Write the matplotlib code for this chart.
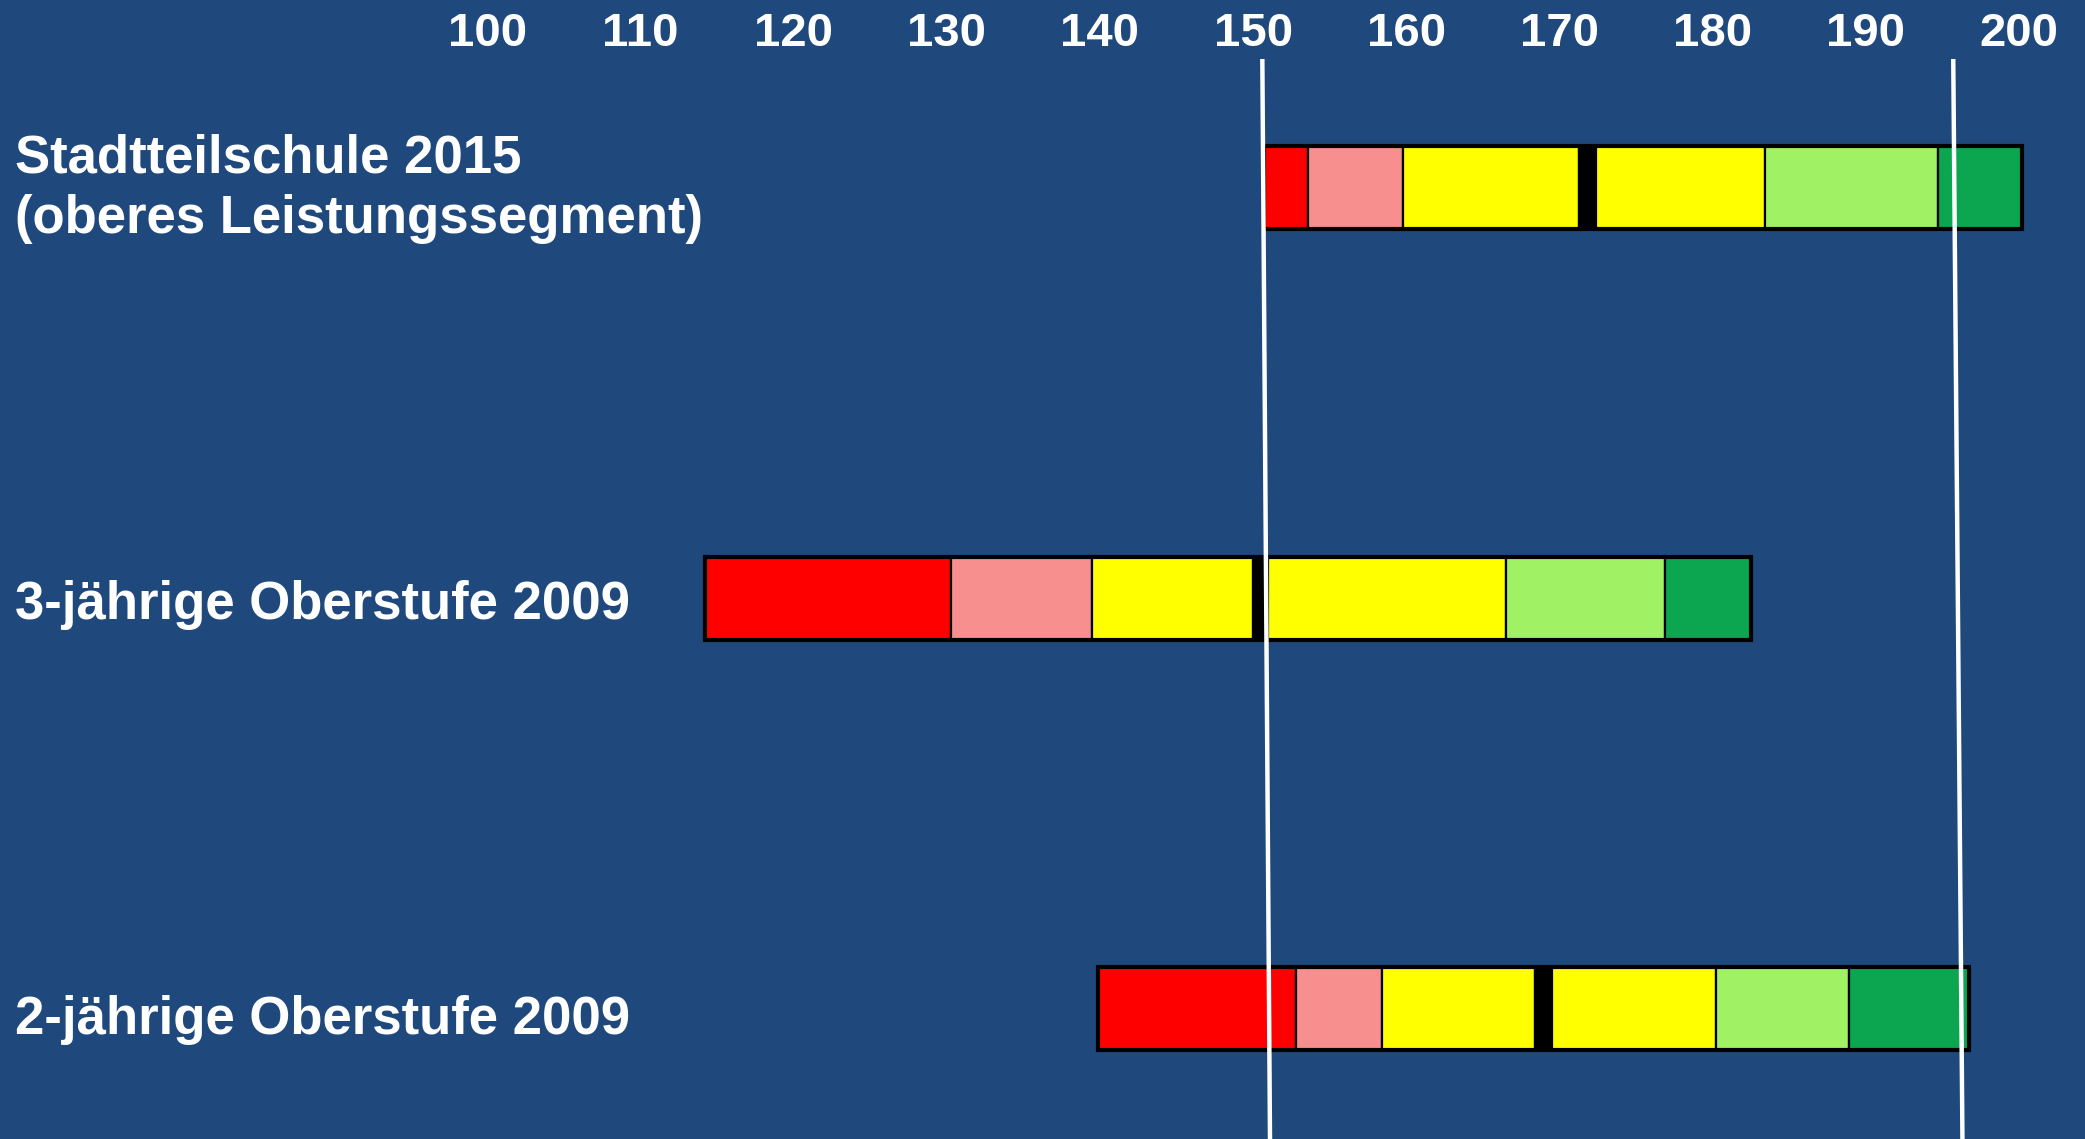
import numpy as np
import matplotlib.pyplot as plt
from matplotlib.transforms import blended_transform_factory

plt.rcParams['font.family'] = ['Liberation Sans', 'DejaVu Sans']
plt.rcParams['font.weight'] = 'bold'

# groups, top to bottom
groups = ['Stadtteilschule 2015\n(oberes Leistungssegment)',
          '3-jährige Oberstufe 2009',
          '2-jährige Oberstufe 2009']

# segment boundaries per group (score scale)
bounds_stadtteil = [150.7, 153.6, 159.8, 171.3, 172.4, 183.4, 194.7, 200.2]
bounds_3jahr = [114.2, 130.3, 139.5, 150.0, 151.0, 166.5, 176.9, 182.5]
bounds_2jahr = [139.9, 152.8, 158.4, 168.4, 169.5, 180.2, 188.9, 196.7]
all_bounds = [bounds_stadtteil, bounds_3jahr, bounds_2jahr]

seg_colors = ['#FF0000', '#F78F8F', '#FFFF00', '#000000', '#FFFF00', '#A0F264', '#0CA650']

# white reference lines (slightly slanted: value at top, value at bottom)
ref_top = [150.6, 195.7]
ref_bottom = [151.1, 196.3]

xticks = [100, 110, 120, 130, 140, 150, 160, 170, 180, 190, 200]

bg = '#1F497D'
fig = plt.figure(figsize=(20.85, 11.39), dpi=100, facecolor=bg)
ax = fig.add_axes([0, 0, 1, 1080 / 1139])
ax.set_facecolor(bg)

ypos = np.arange(len(groups))
bar_h = 0.202
y_top, y_bot = -0.314, 2.317

for y, b in zip(ypos, all_bounds):
    b = np.array(b)
    ax.barh(y, np.diff(b), left=b[:-1], height=bar_h, color=seg_colors,
            edgecolor='black', linewidth=1.6, zorder=2)
    ax.barh(y, b[-1] - b[0], left=b[0], height=bar_h, color='none',
            edgecolor='black', linewidth=3, zorder=3)

for xt, xb in zip(ref_top, ref_bottom):
    ax.plot([xt, xb], [y_top, y_bot], color='white', lw=3.2,
            solid_capstyle='butt', zorder=4)

# labels: baseline of last line, relative to bar centre
label_dy = [0.110, 0.050, 0.061]
trans = blended_transform_factory(ax.transAxes, ax.transData)
for y, dy, name in zip(ypos, label_dy, groups):
    ax.text(15 / 2085, y + dy, name, transform=trans, color='white', fontsize=38,
            fontweight='bold', ha='left', va='baseline', linespacing=1.28)

ax.set_xlim(68.2, 204.3)
ax.set_ylim(y_bot, y_top)
ax.xaxis.tick_top()
ax.set_xticks(xticks)
ax.set_xticklabels([str(t) for t in xticks])
ax.tick_params(axis='x', length=0, pad=2, labelsize=34, labelcolor='white')
ax.set_yticks([])
for s in ax.spines.values():
    s.set_visible(False)

fig.savefig('out.png', dpi=100, facecolor=bg)
